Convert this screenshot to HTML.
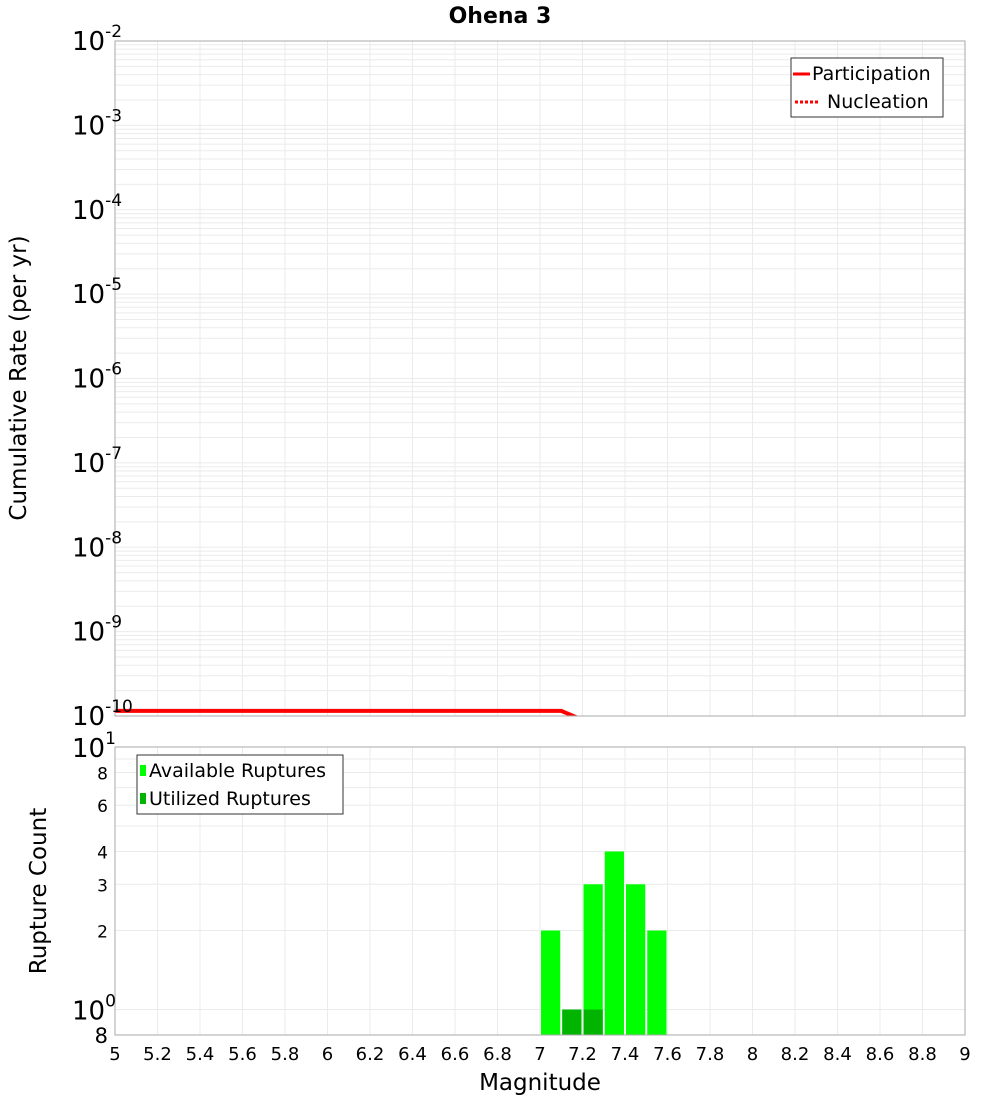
<!DOCTYPE html>
<html><head><meta charset="utf-8"><style>
body{margin:0;background:#fff;}
svg{font-family:"DejaVu Sans","Liberation Sans",sans-serif;}
</style></head><body>
<svg id="c" width="1000" height="1100" xmlns="http://www.w3.org/2000/svg"></svg>
<script>
const xTicks=[5,5.2,5.4,5.6,5.8,6,6.2,6.4,6.6,6.8,7,7.2,7.4,7.6,7.8,8,8.2,8.4,8.6,8.8,9];
const rateMags=[5,7.1,7.2];
const participation=[1.15e-10,1.15e-10,0.9e-10];
const binStarts=[7.0,7.1,7.2,7.3,7.4,7.5];
const available=[2,1,3,4,3,2];
const utilizedStarts=[7.1,7.2];
const utilized=[1,1];
const topExps=[-10,-9,-8,-7,-6,-5,-4,-3,-2];
const botTicks=[2,3,4,6,8];

const NS="http://www.w3.org/2000/svg",svg=document.getElementById('c');
function el(t,a,p){const e=document.createElementNS(NS,t);for(const k in a)e.setAttribute(k,a[k]);(p||svg).appendChild(e);return e;}
const L=115,R=965,T1=41,B1=716,T2=747,B2=1035;
const X=v=>L+(v-5)/4*(R-L);
const Y1=v=>B1-(Math.log10(v)+10)/8*(B1-T1);
const lmin=Math.log10(0.8),lmax=1;
const Y2=v=>B2-(Math.log10(v)-lmin)/(lmax-lmin)*(B2-T2);

let t=el('text',{x:500,y:23,'text-anchor':'middle','font-size':22,'font-weight':'bold'});t.textContent='Ohena 3';


const g1=el('g',{});
for(let e=-10;e<-2;e++)for(let m=1;m<10;m++){const y=Y1(m*Math.pow(10,e));el('line',{x1:L,x2:R,y1:y,y2:y,stroke:'#ebebeb','stroke-width':1},g1);}
xTicks.forEach(v=>el('line',{x1:X(v),x2:X(v),y1:T1,y2:B1,stroke:'#ebebeb'},g1));
const cp=el('clipPath',{id:'cp1'});el('rect',{x:L,y:T1,width:R-L,height:B1-T1},cp);
let pts=rateMags.map((m,i)=>X(m)+','+Y1(participation[i])).join(' ');
const pl=el('polyline',{points:pts,fill:'none',stroke:'#f00','stroke-width':4,'clip-path':'url(#cp1)'});

el('rect',{x:L,y:T1,width:R-L,height:B1-T1,fill:'none',stroke:'#aaa'});
topExps.forEach(e=>{const y=Y1(Math.pow(10,e));const tx=el('text',{x:72,y:y+9,'font-size':26});
tx.innerHTML='10<tspan dy="-13" font-size="17">'+e+'</tspan>';});
t=el('text',{transform:'translate(26,378) rotate(-90)','text-anchor':'middle','font-size':23});t.textContent='Cumulative Rate (per yr)';

const lg=el('g',{});
el('rect',{x:791,y:58,width:152,height:59,fill:'#fff',stroke:'#333'},lg);
el('line',{x1:793,x2:810,y1:74,y2:74,stroke:'#f00','stroke-width':3},lg);
t=el('text',{x:812,y:80,'font-size':19},lg);t.textContent='Participation';
el('line',{x1:795,x2:820,y1:102,y2:102,stroke:'#f00','stroke-width':3,'stroke-dasharray':'3,2'},lg);
t=el('text',{x:827,y:108,'font-size':19},lg);t.textContent='Nucleation';

const g2=el('g',{});
for(let m=1;m<=10;m++){const y=Y2(m);el('line',{x1:L,x2:R,y1:y,y2:y,stroke:'#ebebeb'},g2);}
xTicks.forEach(v=>el('line',{x1:X(v),x2:X(v),y1:T2,y2:B2,stroke:'#ebebeb'},g2));
binStarts.forEach((s,i)=>{const r=el('rect',{x:X(s)+1,y:Y2(available[i]),width:X(s+0.1)-X(s)-2,height:B2-Y2(available[i]),fill:'#00ff00'});
});
utilizedStarts.forEach((s,i)=>{const r=el('rect',{x:X(s)+1,y:Y2(utilized[i]),width:X(s+0.1)-X(s)-2,height:B2-Y2(utilized[i]),fill:'#00b400'});
});
el('rect',{x:L,y:T2,width:R-L,height:B2-T2,fill:'none',stroke:'#aaa'});
botTicks.forEach(v=>{const tx=el('text',{x:108,y:Y2(v)+7,'text-anchor':'end','font-size':17});tx.textContent=v;
});
[[1,0],[10,1]].forEach(([v,e])=>{const tx=el('text',{x:72,y:Y2(v)+10,'font-size':26});tx.innerHTML='10<tspan dy="-13" font-size="17">'+e+'</tspan>';
});
t=el('text',{x:108,y:1043,'text-anchor':'end','font-size':21});t.textContent='8';
t=el('text',{transform:'translate(46,891) rotate(-90)','text-anchor':'middle','font-size':23});t.textContent='Rupture Count';

xTicks.forEach(v=>{const tx=el('text',{x:X(v),y:1060,'text-anchor':'middle','font-size':18});tx.textContent=String(v);
});
t=el('text',{x:540,y:1090,'text-anchor':'middle','font-size':23});t.textContent='Magnitude';

const lb=el('g',{});
el('rect',{x:137,y:755,width:206,height:59,fill:'#fff',stroke:'#333'},lb);
el('rect',{x:140,y:765,width:6,height:11,fill:'#00ff00'},lb);
t=el('text',{x:149,y:777,'font-size':19},lb);t.textContent='Available Ruptures';
el('rect',{x:140,y:793,width:6,height:11,fill:'#00b400'},lb);
t=el('text',{x:149,y:805,'font-size':19},lb);t.textContent='Utilized Ruptures';
</script>
</body></html>
